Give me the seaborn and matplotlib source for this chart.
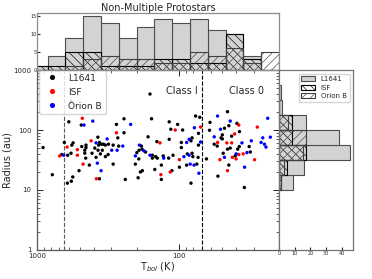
import numpy as np
import pandas as pd
import matplotlib
matplotlib.use('Agg')
import matplotlib.pyplot as plt
import seaborn as sns
from matplotlib.ticker import FuncFormatter, NullFormatter

# Scatter values: bolometric temperature (K) and radius (au)
l1641_tbol = [598, 489, 277, 271, 374, 365, 369, 353, 342, 331, 315, 453, 453, 393, 558,
              643, 570, 907, 485, 462, 577, 609, 670, 462, 411, 373, 348, 292, 317, 331,
              359, 385, 455, 429, 292, 507, 781, 561, 612, 574, 365, 267, 577,
              161, 245, 157, 245, 166, 144, 118, 103, 115, 95, 118, 77, 72, 73.5, 81.5,
              83, 97, 97, 185, 192, 183, 199, 193, 173, 155, 147, 155, 143, 130, 119,
              111, 88, 81.5, 80.5, 74, 89, 75.5, 204, 182, 188, 134, 113, 100, 240,
              195, 134, 83, 149,
              46, 61, 45, 39.5, 61.5, 48.3, 37.9, 50, 51, 50, 43, 57, 54.3, 46, 44,
              38, 39, 32.4, 31.8, 40.6, 49.3, 45, 64.6, 53.7, 35, 73.5]
l1641_radius = [137, 121, 124, 74, 76, 62, 56, 58, 58, 56, 58, 56, 51, 50, 61,
                62, 56, 51, 53, 46, 41, 38, 39, 41, 41, 46, 46, 56, 39, 36,
                40, 35, 34, 26, 27, 21, 18, 16.5, 13, 14, 15.4, 54, 296,
                398, 154, 154, 90, 77, 64, 137, 124, 103, 100, 70, 171, 163, 88, 74,
                66, 62, 51, 54, 46, 48, 42, 33, 43, 38, 36, 34, 34, 37, 34,
                38, 40, 41, 36, 35, 26, 27, 27, 21, 20, 26, 21, 24, 15,
                16, 15, 13, 22,
                202, 134, 118, 129, 99, 107, 94, 83, 74, 71, 79, 58, 54, 48, 50,
                53, 48, 53, 43, 37, 41, 26, 33, 17, 11, 56]

isf_tbol = [481, 277, 417, 615, 521, 693, 521, 475, 383,
            137, 107, 71, 100, 116, 135,
            38.3, 28.4, 41, 54, 46.5, 43, 35.7, 38.3, 42.5, 40, 29.7, 46, 52]
isf_radius = [157, 90, 66, 52, 47, 37, 38, 27, 15.4,
              61, 100, 112, 32, 20, 18,
              121, 112, 86, 62, 61, 61, 40, 39, 35, 33, 32, 21, 32]

orionb_tbol = [468, 406, 322, 385, 649, 299, 274, 377, 355,
               220, 250, 78.5, 85.5, 89, 71, 191, 178, 204, 161, 129, 93, 85.5, 84, 79, 73,
               54, 44, 24, 51.5, 57, 26, 23, 36.4, 31.3, 26.7, 25.3, 24.7, 33.6, 40, 48.3, 34.9]
orionb_radius = [121, 141, 71, 61, 38, 46, 46, 28, 21,
                 124, 54, 109, 70, 62, 63, 56, 45, 37, 38, 34, 36, 38, 27, 26, 19,
                 171, 141, 157, 103, 77, 74, 76, 61, 66, 62, 58, 52, 42, 40, 35, 24]

# Histogram bins and counts (bins in ascending order)
tbol_bins = [20, 26.7, 35.6, 47.4, 63.2, 84.3, 112.5, 150, 200, 267, 356, 474, 632, 843, 1125]
l1641_tbol_counts = [0, 4, 10, 11, 14, 13, 14, 12, 9, 13, 15, 9, 4, 1]
isf_tbol_counts = [0, 3, 10, 2, 2, 3, 3, 1, 1, 1, 5, 5, 1, 1]
orionb_tbol_counts = [5, 2, 6, 4, 5, 2, 2, 3, 3, 4, 3, 1, 0, 0]

radius_bins = [10, 17.8, 31.6, 56.2, 100, 178, 316, 562]
l1641_radius_counts = [9, 16, 45, 38, 17, 2, 1]
isf_radius_counts = [1, 5, 17, 8, 8, 0, 0]
orionb_radius_counts = [1, 3, 15, 17, 6, 0, 0]

regions = ['L1641', 'ISF', 'Orion B']
colors = {'L1641': 'k', 'ISF': 'r', 'Orion B': 'b'}

df = pd.concat([
    pd.DataFrame({'tbol': l1641_tbol, 'radius': l1641_radius, 'region': 'L1641'}),
    pd.DataFrame({'tbol': isf_tbol, 'radius': isf_radius, 'region': 'ISF'}),
    pd.DataFrame({'tbol': orionb_tbol, 'radius': orionb_radius, 'region': 'Orion B'}),
], ignore_index=True)

sns.set_style('ticks', {'xtick.direction': 'in', 'ytick.direction': 'in'})
plt.rcParams['hatch.linewidth'] = 0.45

fig = plt.figure(figsize=(3.72, 2.79), dpi=100)
ax = fig.add_axes([0.0995, 0.104, 0.6505, 0.645])
ax_top = fig.add_axes([0.0995, 0.749, 0.6505, 0.204], sharex=ax)
ax_right = fig.add_axes([0.75, 0.104, 0.199, 0.645], sharey=ax)

ax.set_xscale('log')
ax.set_yscale('log')

# Main scatter
sns.scatterplot(data=df, x='tbol', y='radius', hue='region', hue_order=regions,
                palette=colors, s=6, linewidth=0, ax=ax, zorder=3)
ax.axvline(650, color='0.35', ls='--', lw=0.8)
ax.axvline(70, color='k', ls='--', lw=0.8)
ax.text(74, 450, 'Class I', ha='right', va='center', fontsize=7)
ax.text(34, 450, 'Class 0', ha='center', va='center', fontsize=7)

# Top histogram (Tbol)
isf_style = dict(facecolor='none', edgecolor='k', hatch='\\\\\\\\', lw=0.8)
orionb_style = dict(facecolor='none', edgecolor='0.25', hatch='////', lw=0.8)
l1641_style = dict(facecolor='#d3d3d3', edgecolor='0.3', lw=0.8)

tbol_edges = np.array(tbol_bins)
tbol_centers = np.sqrt(tbol_edges[:-1] * tbol_edges[1:])
ax_top.hist(tbol_centers, bins=tbol_edges, weights=l1641_tbol_counts, **l1641_style)
ax_top.hist(tbol_centers, bins=tbol_edges, weights=isf_tbol_counts, **isf_style)
ax_top.hist(tbol_centers, bins=tbol_edges, weights=orionb_tbol_counts, **orionb_style)
ax_top.set_title('Non-Multiple Protostars', fontsize=7, pad=1.5)

# Right histogram (radius)
rad_edges = np.array(radius_bins)
rad_centers = np.sqrt(rad_edges[:-1] * rad_edges[1:])
ax_right.hist(rad_centers, bins=rad_edges, weights=l1641_radius_counts,
              orientation='horizontal', label='L1641', **l1641_style)
ax_right.hist(rad_centers, bins=rad_edges, weights=isf_radius_counts,
              orientation='horizontal', label='ISF', **isf_style)
ax_right.hist(rad_centers, bins=rad_edges, weights=orionb_radius_counts,
              orientation='horizontal', label='Orion B', **orionb_style)
ax_right.legend(loc='upper right', fontsize=5, labelspacing=0.35, borderpad=0.4,
                handlelength=2.0, handleheight=0.7)

# Axes limits and ticks
ax.set_xlim(1000, 20)
ax.set_ylim(1, 1000)
fmt = FuncFormatter(lambda v, p: f'{v:g}')
ax.xaxis.set_major_formatter(fmt)
ax.xaxis.set_minor_formatter(NullFormatter())
ax.yaxis.set_major_formatter(fmt)
ax.yaxis.set_minor_formatter(NullFormatter())
ax.tick_params(which='both', direction='in', top=True, right=True, labelsize=5)
ax.tick_params(axis='x', pad=2)
ax.tick_params(axis='y', pad=4)
ax.tick_params(which='major', length=4, width=0.7)
ax.tick_params(which='minor', length=2, width=0.5)
ax.set_xlabel(r'T$_{bol}$ (K)', fontsize=7, labelpad=1)
ax.set_ylabel('Radius (au)', fontsize=7, labelpad=1)
sns.move_legend(ax, 'upper left', bbox_to_anchor=(0.01, 1.0), title=None, fontsize=6.5,
                borderaxespad=0.0, handletextpad=0.8, labelspacing=0.55, markerscale=1.5)

ax_top.tick_params(axis='x', which='both', bottom=False, top=False, labelbottom=False)
ax_top.tick_params(axis='y', which='both', direction='in', labelsize=3.5, length=2, pad=0.5)
ax_right.tick_params(axis='y', which='both', left=False, right=False, labelleft=False)
ax_right.tick_params(axis='x', which='both', direction='in', labelsize=3.5, length=2, pad=1)

for a, c in [(ax, '0.35'), (ax_top, '0.55'), (ax_right, '0.45')]:
    for sp in a.spines.values():
        sp.set_color(c)
        sp.set_linewidth(0.9)
        sp.set_visible(True)

fig.savefig('out.png', dpi=100)
